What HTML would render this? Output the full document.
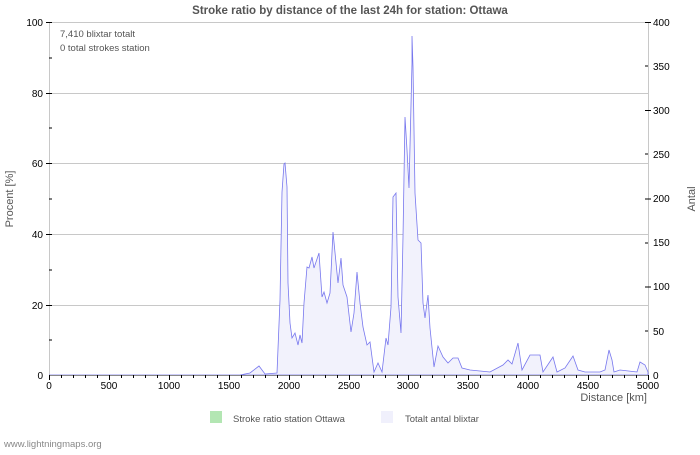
<!DOCTYPE html>
<html><head><style>
body{margin:0;background:#fff;width:700px;height:450px;overflow:hidden;font-family:"Liberation Sans",sans-serif}
text{font-family:"Liberation Sans",sans-serif}
</style></head><body>
<svg width="700" height="450" xmlns="http://www.w3.org/2000/svg">
<text x="350" y="14" text-anchor="middle" font-size="11.5" font-weight="bold" fill="#555">Stroke ratio by distance of the last 24h for station: Ottawa</text>
<g stroke="#c8c8c8" stroke-width="1">
<line x1="49" y1="22.5" x2="648" y2="22.5"/><line x1="49" y1="93.5" x2="648" y2="93.5"/><line x1="49" y1="163.5" x2="648" y2="163.5"/><line x1="49" y1="234.5" x2="648" y2="234.5"/><line x1="49" y1="305.5" x2="648" y2="305.5"/>
<line x1="49.5" y1="22" x2="49.5" y2="375"/><line x1="648.5" y1="22" x2="648.5" y2="375"/>
</g>
<polygon fill="#f2f2fc" stroke="#7777ee" stroke-width="0.8" points="49,375 240,375 250,373 259,366 265,374 277,373 280,300 282,192 284,164 285,163 287,187 288,283 290,323 292,338 295,333 298,345 300,335 302,343 304,303 307,267 309,268 312,257 314,268 319,253 322,297 324,292 327,303 330,293 333,232 337,273 338,283 341,258 343,285 347,297 351,332 354,313 357,272 360,303 363,327 367,345 370,342 374,372 378,363 382,372 386,338 388,345 391,307 393,197 396,193 398,297 401,333 403,237 405,117 407,150 409,188 412,63 412,36 413,67 415,193 418,240 421,243 423,303 425,318 428,295 430,328 434,367 438,346 443,357 448,363 453,358 458,358 462,368 470,370 480,371 490,372 503,365 508,360 512,364 518,343 522,370 530,355 540,355 543,372 553,357 557,372 565,368 573,356 578,370 585,372 600,372 605,370 609,350 612,360 614,372 620,370 637,372 640,362 645,365 648,372 648,375"/>
<line x1="49" y1="375.5" x2="648" y2="375.5" stroke="#888"/>
<g stroke="#000" stroke-width="1">
<line x1="46" y1="22.5" x2="52" y2="22.5"/><line x1="49" y1="58" x2="52" y2="58"/><line x1="46" y1="93.5" x2="52" y2="93.5"/><line x1="49" y1="128" x2="52" y2="128"/><line x1="46" y1="163.5" x2="52" y2="163.5"/><line x1="49" y1="199" x2="52" y2="199"/><line x1="46" y1="234.5" x2="52" y2="234.5"/><line x1="49" y1="270" x2="52" y2="270"/><line x1="46" y1="305.5" x2="52" y2="305.5"/><line x1="49" y1="340" x2="52" y2="340"/>
<line x1="645" y1="22.5" x2="651" y2="22.5"/><line x1="645" y1="110.5" x2="651" y2="110.5"/><line x1="645" y1="199" x2="651" y2="199"/><line x1="645" y1="287" x2="651" y2="287"/>
<line x1="645" y1="66" x2="648" y2="66"/><line x1="645" y1="154" x2="648" y2="154"/><line x1="645" y1="243" x2="648" y2="243"/><line x1="645" y1="331" x2="648" y2="331"/>
</g>
<g stroke="#000">
<path d="M49.5 375v5M109.5 375v5M169.5 375v5M229.5 375v5M289.5 375v5M349.5 375v5M408.5 375v5M468.5 375v5M528.5 375v5M588.5 375v5M648.5 375v5"/>
<path d="M61.5 375v3M73.5 375v3M85.5 375v3M97.5 375v3M121.5 375v3M133.5 375v3M145.5 375v3M157.5 375v3M181.5 375v3M193.5 375v3M205.5 375v3M217.5 375v3M241.5 375v3M253.5 375v3M265.5 375v3M277.5 375v3M301.5 375v3M313.5 375v3M325.5 375v3M337.5 375v3M361.5 375v3M373.5 375v3M385.5 375v3M397.5 375v3M420.5 375v3M432.5 375v3M444.5 375v3M456.5 375v3M480.5 375v3M492.5 375v3M504.5 375v3M516.5 375v3M540.5 375v3M552.5 375v3M564.5 375v3M576.5 375v3M600.5 375v3M612.5 375v3M624.5 375v3M636.5 375v3"/>
</g>
<g font-size="10" fill="#000" text-anchor="end">
<text x="43" y="26">100</text><text x="43" y="97">80</text><text x="43" y="167">60</text><text x="43" y="238">40</text><text x="43" y="309">20</text><text x="43" y="379">0</text>
</g>
<g font-size="10" fill="#000" text-anchor="start">
<text x="653" y="26">400</text><text x="653" y="114">300</text><text x="653" y="202">200</text><text x="653" y="290">100</text><text x="653" y="335">50</text><text x="653" y="379">0</text>
<text x="653" y="70">350</text><text x="653" y="158">250</text><text x="653" y="246">150</text>
</g>
<g font-size="10" fill="#000" text-anchor="middle">
<text x="49" y="389">0</text><text x="109" y="389">500</text><text x="169" y="389">1000</text><text x="229" y="389">1500</text><text x="289" y="389">2000</text><text x="349" y="389">2500</text><text x="408" y="389">3000</text><text x="468" y="389">3500</text><text x="528" y="389">4000</text><text x="588" y="389">4500</text><text x="648" y="389">5000</text>
</g>
<text x="647" y="401" font-size="11" fill="#555" text-anchor="end">Distance   [km]</text>
<text transform="translate(13,199) rotate(-90)" font-size="11" fill="#555" text-anchor="middle">Procent   [%]</text>
<text transform="translate(695,199) rotate(-90)" font-size="11" fill="#555" text-anchor="middle">Antal</text>
<text x="60" y="37" font-size="9.5" fill="#555">7,410 blixtar totalt</text>
<text x="60" y="51" font-size="9.5" fill="#555">0 total strokes station</text>
<rect x="210" y="411" width="12" height="12" fill="#b3e6b3"/>
<text x="233" y="422" font-size="9.5" fill="#555">Stroke ratio station Ottawa</text>
<rect x="381" y="411" width="12" height="12" fill="#f0f0fc"/>
<text x="405" y="422" font-size="9.5" fill="#555">Totalt antal blixtar</text>
<text x="4" y="447" font-size="9.5" fill="#888">www.lightningmaps.org</text>
</svg>
</body></html>
